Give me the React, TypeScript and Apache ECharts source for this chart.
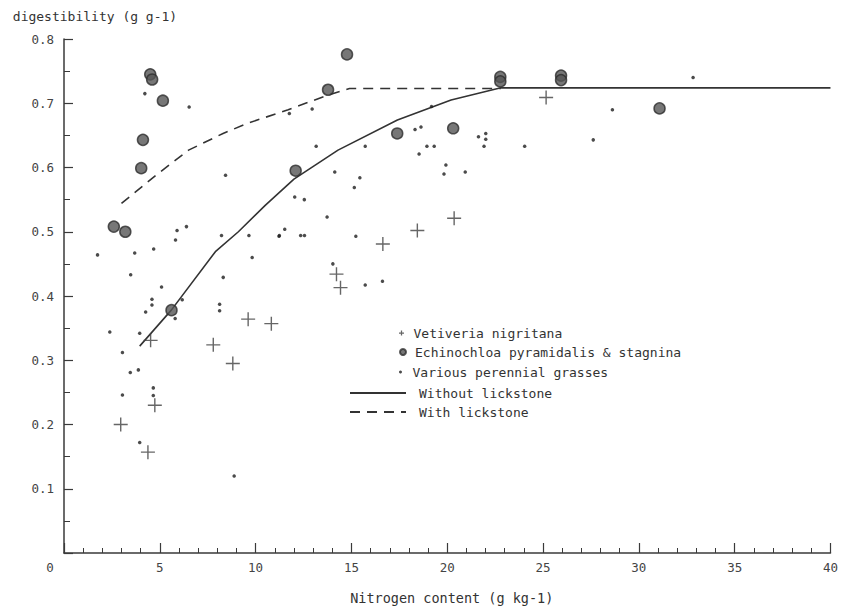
import React, { useEffect, useRef } from "react";
import * as echarts from "echarts";

const xTicks = [0, 5, 10, 15, 20, 25, 30, 35, 40];
const yTicks = [0.1, 0.2, 0.3, 0.4, 0.5, 0.6, 0.7, 0.8];

const vetiveriaX = [2.96, 4.38, 4.52, 4.74, 7.79, 8.81, 9.61, 10.82, 14.22, 14.43, 16.64, 18.44, 20.36, 25.16];
const vetiveriaY = [0.2, 0.157, 0.331, 0.23, 0.324, 0.295, 0.364, 0.357, 0.434, 0.413, 0.481, 0.502, 0.521, 0.709];

const echinoX = [2.6, 3.2, 4.5, 4.6, 5.16, 4.12, 4.03, 5.61, 12.09, 17.39, 20.31, 14.77, 13.78, 22.77, 22.77, 25.94, 25.94, 31.08];
const echinoY = [0.508, 0.5, 0.745, 0.737, 0.704, 0.643, 0.599, 0.378, 0.595, 0.653, 0.661, 0.776, 0.721, 0.741, 0.734, 0.743, 0.736, 0.692];

const variousX = [1.75, 3.69, 4.68, 3.48, 5.9, 6.39, 5.82, 5.09, 4.59, 4.59, 4.26, 5.8, 6.17, 3.95, 2.39, 3.05, 3.46, 3.88, 4.66, 4.66, 3.05, 3.95, 8.88, 8.22, 9.65, 9.82, 8.31, 8.12, 8.12, 11.24, 11.52, 12.35, 12.55, 13.73, 4.22, 6.53, 8.43, 11.76, 12.95, 13.16, 15.72, 14.13, 15.44, 15.15, 12.04, 12.54, 15.23, 14.03, 15.72, 16.62, 18.32, 18.63, 18.94, 19.32, 18.53, 19.93, 19.83, 20.94, 21.63, 22.01, 22.01, 21.92, 24.04, 19.18, 27.62, 28.62, 32.83, 11.22];
const variousY = [0.464, 0.467, 0.473, 0.433, 0.502, 0.508, 0.487, 0.414, 0.395, 0.386, 0.375, 0.365, 0.394, 0.342, 0.344, 0.312, 0.281, 0.285, 0.257, 0.245, 0.246, 0.172, 0.12, 0.494, 0.494, 0.46, 0.429, 0.387, 0.377, 0.494, 0.504, 0.494, 0.494, 0.523, 0.715, 0.694, 0.588, 0.684, 0.691, 0.633, 0.633, 0.593, 0.584, 0.569, 0.554, 0.55, 0.493, 0.45, 0.417, 0.423, 0.659, 0.663, 0.633, 0.633, 0.621, 0.604, 0.59, 0.593, 0.648, 0.653, 0.644, 0.633, 0.633, 0.695, 0.643, 0.69, 0.74, 0.493];

const withoutX = [3.95, 5.6, 7.9, 9.1, 10.5, 12.0, 14.3, 17.4, 20.2, 22.8, 40];
const withoutY = [0.322, 0.378, 0.469, 0.5, 0.541, 0.582, 0.627, 0.674, 0.705, 0.724, 0.724];

const withX = [3.0, 4.8, 6.5, 8.3, 9.6, 11.7, 13.8, 14.9, 22.8];
const withY = [0.544, 0.588, 0.627, 0.653, 0.669, 0.69, 0.713, 0.723, 0.723];

const NAMES = [
  "Vetiveria nigritana",
  "Echinochloa pyramidalis & stagnina",
  "Various perennial grasses",
  "Without lickstone",
  "With lickstone",
];

const zip = (xs: number[], ys: number[]) => xs.map((x, i) => [x, ys[i]]);

const FONT = "DejaVu Sans Mono";
const INK = "#3a3a3a";

export default function App() {
  const ref = useRef<HTMLDivElement>(null);
  useEffect(() => {
    document.body.style.margin = "0";
    const chart = echarts.init(ref.current!, null, { renderer: "svg" });
    const legendText = { fontFamily: FONT, fontSize: 13, color: "#333", lineHeight: 16 };
    const mkLegend = (name: string, left: number, top: number, w: number, h: number, extra: any = {}) => ({
      data: extra.icon ? [{ name, icon: extra.icon }] : [name],
      orient: "vertical",
      left,
      top,
      padding: 0,
      itemWidth: w,
      itemHeight: h,
      selectedMode: false,
      textStyle: { ...legendText, ...(extra.textStyle || {}) },
      ...(extra.itemStyle ? { itemStyle: extra.itemStyle } : {}),
    });
    chart.setOption({
      animation: false,
      backgroundColor: "#fff",
      textStyle: { fontFamily: FONT },
      grid: { left: 64, right: 7, top: 39, bottom: 59 },
      legend: [
        mkLegend(NAMES[0], 399, 325, 14, 5, { icon: "path://M0,6H16V10H0Z M6,0H10V16H6Z" }),
        mkLegend(NAMES[1], 399, 344, 14, 6, { icon: "circle" }),
        mkLegend(NAMES[2], 399, 364, 14, 3, { icon: "circle" }),
        mkLegend(NAMES[3], 349, 385, 56, 14, { textStyle: { padding: [0, 0, 0, 8] }, itemStyle: { opacity: 0 } }),
        mkLegend(NAMES[4], 349, 404, 56, 14, { textStyle: { padding: [0, 0, 0, 8] }, itemStyle: { opacity: 0 } }),
      ],
      xAxis: {
        type: "value",
        min: xTicks[0],
        max: xTicks[xTicks.length - 1],
        interval: 5,
        name: "Nitrogen content (g kg-1)",
        nameLocation: "middle",
        nameGap: 38,
        nameTextStyle: { fontFamily: FONT, fontSize: 13.5, color: "#333", padding: [0, 0, 0, 9] },
        axisLine: { lineStyle: { color: INK, width: 1.5 } },
        axisTick: { inside: true, length: 10, lineStyle: { color: INK, width: 1.2 } },
        minorTick: { show: true, splitNumber: 5, length: 5, lineStyle: { color: INK, width: 1 } },
        splitLine: { show: false },
        axisLabel: {
          margin: 8,
          fontFamily: FONT,
          fontSize: 12.5,
          color: "#444",
          formatter: (v: number) => (v === 0 ? "{z|0}" : String(v)),
          rich: { z: { fontFamily: FONT, fontSize: 12.5, color: "#444", padding: [0, 28, 0, 0] } },
        },
      },
      yAxis: {
        type: "value",
        min: 0,
        max: yTicks[yTicks.length - 1],
        interval: 0.1,
        name: "digestibility (g g-1)",
        nameLocation: "end",
        nameGap: 16,
        nameTextStyle: { fontFamily: FONT, fontSize: 13, color: "#333", padding: [0, 0, 0, 62] },
        axisLine: { show: true, lineStyle: { color: INK, width: 1.5 } },
        axisTick: { show: true, inside: true, length: 9, lineStyle: { color: INK, width: 1.2 } },
        minorTick: { show: true, splitNumber: 2, length: 6, lineStyle: { color: INK, width: 1 } },
        splitLine: { show: false },
        axisLabel: {
          margin: 10,
          fontFamily: FONT,
          fontSize: 12.5,
          color: "#444",
          formatter: (v: number) => (v === 0 ? "" : v.toFixed(1)),
        },
      },
      series: [
        {
          name: NAMES[0],
          type: "scatter",
          symbol: "path://M0,7.2H16V8.8H0Z M7.2,0H8.8V16H7.2Z",
          symbolSize: 14,
          itemStyle: { color: "#404040" },
          data: zip(vetiveriaX, vetiveriaY),
          z: 3,
        },
        {
          name: NAMES[1],
          type: "scatter",
          symbol: "circle",
          symbolSize: 11,
          itemStyle: { color: "#555", borderColor: "#2e2e2e", borderWidth: 1.5 },
          data: zip(echinoX, echinoY),
          z: 4,
        },
        {
          name: NAMES[2],
          type: "scatter",
          symbol: "circle",
          symbolSize: 3.5,
          itemStyle: { color: "#1e1e1e" },
          data: zip(variousX, variousY),
          z: 3,
        },
        {
          name: NAMES[3],
          type: "line",
          symbol: "none",
          lineStyle: { color: "#333", width: 1.6 },
          itemStyle: { color: "#333" },
          data: zip(withoutX, withoutY),
          z: 2,
        },
        {
          name: NAMES[4],
          type: "line",
          symbol: "none",
          lineStyle: { color: "#333", width: 1.6, type: [10, 7] },
          itemStyle: { color: "#333" },
          data: zip(withX, withY),
          z: 2,
        },
      ],
    });
    return () => chart.dispose();
  }, []);
  return (
    <div
      ref={ref}
      style={{ position: "absolute", left: 0, top: 0, width: 841, height: 612, background: "#fff" }}
    />
  );
}
